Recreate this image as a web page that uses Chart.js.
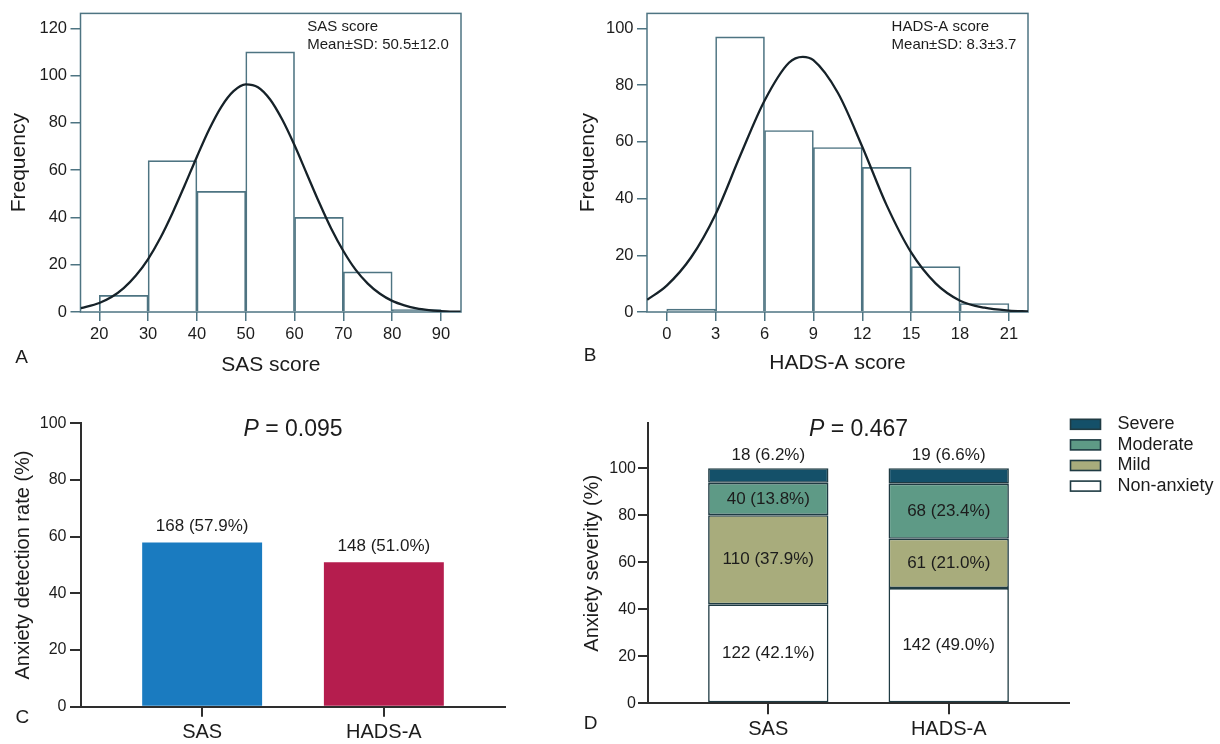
<!DOCTYPE html>
<html><head><meta charset="utf-8">
<script src="https://cdn.jsdelivr.net/npm/chart.js@4.4.1/dist/chart.umd.min.js"></script>
<style>
html,body{margin:0;padding:0;background:#fff;width:1220px;height:744px;overflow:hidden;}
canvas{position:absolute;}
</style></head><body>
<canvas id="cA" width="560" height="380" style="left:0;top:0"></canvas>
<canvas id="cB" width="660" height="380" style="left:560px;top:0"></canvas>
<canvas id="cC" width="560" height="364" style="left:0;top:380px"></canvas>
<canvas id="cD" width="660" height="364" style="left:560px;top:380px"></canvas>
<script>
// ---------- Panel A: SAS histogram ----------
const sasBinCenters = [25, 35, 45, 55, 65, 75, 85];
const sasBinCounts = [7, 64, 51, 110, 40, 17, 1];
const sasCurveX = [16.2, 20, 22.5, 25, 27.5, 30, 32.5, 35, 37.5, 40, 42.5, 45, 47.5, 50, 52.5, 55, 57.5, 60, 62.5, 65, 67.5, 70, 72.5, 75, 77.5, 80, 82.5, 85, 87.5, 90, 94];
const sasCurveY = [1.6, 3.8, 6.3, 10.1, 15.4, 22.4, 31.3, 41.9, 53.6, 65.7, 77.2, 86.8, 93.4, 96.3, 95.1, 89.9, 81.3, 70.5, 58.5, 46.5, 35.3, 25.8, 17.9, 12.0, 7.7, 4.7, 2.8, 1.5, 0.8, 0.4, 0.1];
const sasTicksX = [20, 30, 40, 50, 60, 70, 80, 90];
const sasTicksY = [0, 20, 40, 60, 80, 100, 120];
const sasNote = ['SAS score', 'Mean\u00B1SD: 50.5\u00B112.0'];

// ---------- Panel B: HADS-A histogram ----------
const hadsBinCenters = [1.5, 4.5, 7.5, 10.5, 13.5, 16.5, 19.5];
const hadsBinCounts = [1, 97, 64, 58, 51, 16, 3];
const hadsCurveX = [-1.2, 0, 1.5, 3, 4.5, 6, 7.5, 8.35, 9, 10.5, 12, 13.5, 15, 16.5, 18, 19.5, 21, 22.2];
const hadsCurveY = [4.3, 9.3, 19.3, 34.5, 55.0, 74.5, 87.9, 90.0, 88.8, 77.3, 58.3, 37.6, 21.0, 10.1, 4.0, 1.5, 0.5, 0.2];
const hadsTicksX = [0, 3, 6, 9, 12, 15, 18, 21];
const hadsTicksY = [0, 20, 40, 60, 80, 100];
const hadsNote = ['HADS-A score', 'Mean\u00B1SD: 8.3\u00B13.7'];

// ---------- Panel C: detection rate ----------
const scales2 = ['SAS', 'HADS-A'];
const detectCounts = [168, 148];
const detectPct = [57.9, 51.0];
const pctTicks = [0, 20, 40, 60, 80, 100];
const pC = '0.095';

// ---------- Panel D: severity ----------
const sevLabels = ['Non-anxiety', 'Mild', 'Moderate', 'Severe'];
const sevCounts = { 'Non-anxiety': [122, 142], 'Mild': [110, 61], 'Moderate': [40, 68], 'Severe': [18, 19] };
const sevPct = { 'Non-anxiety': [42.1, 49.0], 'Mild': [37.9, 21.0], 'Moderate': [13.8, 23.4], 'Severe': [6.2, 6.6] };
const pD = '0.467';

// ---------- styling ----------
const FONT = "'Liberation Sans', Arial, Helvetica, sans-serif";
const textCol = '#1c1c1c';
const frameCol = '#4e7482';
const axisCol = '#2e2e2e';
const barColsC = ['#1a7bc0', '#b51d4e'];
const sevColors = { 'Non-anxiety': '#ffffff', 'Mild': '#a8ac7c', 'Moderate': '#5e9a86', 'Severe': '#145069' };
const sevBorder = '#1f3b43';

Chart.defaults.font.family = FONT;
Chart.defaults.color = textCol;
Chart.defaults.animation = false;

function txt(ctx, s, x, y, font, align, base, color) {
  ctx.save();
  ctx.font = font; ctx.fillStyle = color || textCol;
  ctx.textAlign = align || 'center'; ctx.textBaseline = base || 'middle';
  ctx.fillText(s, x, y);
  ctx.restore();
}
function pText(ctx, val, cx, cy, size) {
  ctx.save();
  const fi = 'italic ' + size + 'px ' + FONT, fr = size + 'px ' + FONT;
  ctx.font = fi; const w1 = ctx.measureText('P').width;
  const rest = ' = ' + val;
  ctx.font = fr; const w2 = ctx.measureText(rest).width;
  const x0 = cx - (w1 + w2) / 2;
  ctx.fillStyle = textCol; ctx.textBaseline = 'middle'; ctx.textAlign = 'left';
  ctx.font = fi; ctx.fillText('P', x0, cy);
  ctx.font = fr; ctx.fillText(rest, x0 + w1, cy);
  ctx.restore();
}

function histConfig(binX, binY, curveX, curveY, ticksX, ticksY, xmin, xmax, ymax, xTitle, pad, yW, yTitlePad, xTitlePad, note, letter, letterPos) {
  return {
    type: 'bar',
    data: {
      datasets: [
        { type: 'line', data: curveX.map((x, i) => ({ x: x, y: curveY[i] })), borderColor: '#162229', borderWidth: 2.3,
          pointRadius: 0, cubicInterpolationMode: 'monotone', fill: false, order: 0 },
        { type: 'bar', data: binX.map((x, i) => ({ x: x, y: binY[i] })), backgroundColor: 'rgba(255,255,255,0)',
          borderColor: frameCol, borderWidth: 1, borderSkipped: 'start', categoryPercentage: 1, barPercentage: 1, order: 1 }
      ]
    },
    options: {
      responsive: false, animation: false,
      layout: { padding: pad },
      plugins: { legend: { display: false }, tooltip: { enabled: false } },
      scales: {
        x: {
          type: 'linear', min: xmin, max: xmax, offset: false,
          grid: { display: true, offset: false, drawOnChartArea: false, tickLength: 9, color: frameCol, lineWidth: 1.5 },
          border: { display: false },
          ticks: { padding: 3.6, font: { size: 16.5 }, color: textCol, autoSkip: false, maxRotation: 0 },
          afterBuildTicks: s => { s.ticks = ticksX.map(v => ({ value: v })); },
          afterFit: s => { s.height = 380 - 312; },
          title: { display: true, text: xTitle, color: textCol, font: { size: 21, lineHeight: 1.2 }, padding: { top: 0, bottom: xTitlePad } }
        },
        y: {
          type: 'linear', min: 0, max: ymax,
          grid: { display: true, drawOnChartArea: false, tickLength: 10, color: frameCol, lineWidth: 1.5 },
          border: { display: false },
          ticks: { padding: 3.5, font: { size: 16.5 }, color: textCol, autoSkip: false },
          afterBuildTicks: s => { s.ticks = ticksY.map(v => ({ value: v })); },
          afterFit: s => { s.width = yW; },
          title: { display: true, text: 'Frequency', color: textCol, font: { size: 21, lineHeight: 1.2 }, padding: { top: yTitlePad, bottom: 0 } }
        }
      }
    },
    plugins: [{
      id: 'histExtra',
      beforeDatasetsDraw(chart) {
        const { ctx, chartArea: a } = chart;
        ctx.save(); ctx.strokeStyle = frameCol; ctx.lineWidth = 1.5;
        ctx.strokeRect(a.left, a.top, a.right - a.left, a.bottom - a.top);
        ctx.restore();
      },
      afterDraw(chart) {
        const ctx = chart.ctx;
        const nx = chart.scales.x.getPixelForValue(note.x);
        txt(ctx, note.t[0], nx, 27, '15px ' + FONT, 'left');
        txt(ctx, note.t[1], nx, 45, '15px ' + FONT, 'left');
        txt(ctx, letter, letterPos[0], letterPos[1], '19px ' + FONT);
      }
    }]
  };
}

new Chart(document.getElementById('cA'), histConfig(sasBinCenters, sasBinCounts, sasCurveX, sasCurveY, sasTicksX, sasTicksY,
  16.15, 94.1, 126.3, 'SAS score', { left: 0, top: 12, right: 99, bottom: 0 }, 80.5, 7, 2.4,
  { x: 62.6, t: sasNote }, 'A', [21.7, 358]));

new Chart(document.getElementById('cB'), histConfig(hadsBinCenters, hadsBinCounts, hadsCurveX, hadsCurveY, hadsTicksX, hadsTicksY,
  -1.21, 22.17, 105.3, 'HADS-A score', { left: 0, top: 12, right: 192, bottom: 0 }, 87, 15.5, 4.4,
  { x: 13.8, t: hadsNote }, 'B', [30, 356]));

// ---------- Panel C ----------
new Chart(document.getElementById('cC'), {
  type: 'bar',
  data: { datasets: [{ data: scales2.map((c, i) => ({ x: i + 1, y: detectPct[i] })), backgroundColor: barColsC,
    borderWidth: 0, categoryPercentage: 1, barPercentage: 0.66 }] },
  options: {
    responsive: false, animation: false,
    layout: { padding: { left: 0, top: 43.3, right: 55, bottom: 0 } },
    plugins: { legend: { display: false }, tooltip: { enabled: false } },
    scales: {
      x: {
        type: 'linear', min: 1 / 3, max: 8 / 3, offset: false,
        grid: { display: true, offset: false, drawOnChartArea: false, tickLength: 10, color: axisCol, lineWidth: 2 },
        border: { display: true, color: axisCol, width: 2 },
        ticks: { padding: 4, font: { size: 20 }, color: textCol, autoSkip: false, maxRotation: 0, callback: v => scales2[v - 1] },
        afterBuildTicks: s => { s.ticks = scales2.map((c, i) => ({ value: i + 1 })); },
        afterFit: s => { s.height = 364 - 326.7; }
      },
      y: {
        type: 'linear', min: 0, max: 100,
        grid: { display: true, drawOnChartArea: false, tickLength: 11, color: axisCol, lineWidth: 2 },
        border: { display: true, color: axisCol, width: 2 },
        ticks: { padding: 3.5, font: { size: 16 }, color: textCol, autoSkip: false },
        afterBuildTicks: s => { s.ticks = pctTicks.map(v => ({ value: v })); },
        afterFit: s => { s.width = 81; },
        title: { display: true, text: 'Anxiety detection rate (%)', color: textCol, font: { size: 20, lineHeight: 1.2 }, padding: { top: 11, bottom: 0 } }
      }
    }
  },
  plugins: [{
    id: 'cExtra',
    afterDraw(chart) {
      const ctx = chart.ctx, a = chart.chartArea;
      const meta = chart.getDatasetMeta(0);
      meta.data.forEach((el, i) => {
        txt(ctx, detectCounts[i] + ' (' + detectPct[i].toFixed(1) + '%)', el.x, el.y - 16, '17px ' + FONT);
      });
      pText(ctx, pC, (a.left + a.right) / 2, 50, 23);
      txt(ctx, 'C', 22.3, 337.5, '19px ' + FONT);
    }
  }]
});

// ---------- Panel D ----------
new Chart(document.getElementById('cD'), {
  type: 'bar',
  data: { datasets: sevLabels.map(lab => ({
    label: lab, stack: 's',
    data: scales2.map((c, i) => ({ x: i + 1, y: sevPct[lab][i] })),
    backgroundColor: sevColors[lab], borderColor: sevBorder, borderWidth: 1.6, borderSkipped: false,
    categoryPercentage: 1, barPercentage: 0.667
  })) },
  options: {
    responsive: false, animation: false,
    layout: { padding: { left: 0, top: 43.3, right: 151, bottom: 0 } },
    plugins: { legend: { display: false }, tooltip: { enabled: false } },
    scales: {
      x: {
        type: 'linear', min: 1 / 3, max: 8 / 3, offset: false, stacked: true,
        grid: { display: true, offset: false, drawOnChartArea: false, tickLength: 11, color: axisCol, lineWidth: 2 },
        border: { display: true, color: axisCol, width: 2 },
        ticks: { padding: 3.4, font: { size: 20 }, color: textCol, autoSkip: false, maxRotation: 0, callback: v => scales2[v - 1] },
        afterBuildTicks: s => { s.ticks = scales2.map((c, i) => ({ value: i + 1 })); },
        afterFit: s => { s.height = 364 - 323.3; }
      },
      y: {
        type: 'linear', min: 0, max: 119.1, stacked: true,
        grid: { display: true, drawOnChartArea: false, tickLength: 10, color: axisCol, lineWidth: 2 },
        border: { display: true, color: axisCol, width: 2 },
        ticks: { padding: 2, font: { size: 16 }, color: textCol, autoSkip: false },
        afterBuildTicks: s => { s.ticks = pctTicks.map(v => ({ value: v })); },
        afterFit: s => { s.width = 88; },
        title: { display: true, text: 'Anxiety severity (%)', color: textCol, font: { size: 20, lineHeight: 1.2 }, padding: { top: 20.5, bottom: 0 } }
      }
    }
  },
  plugins: [{
    id: 'dExtra',
    afterDraw(chart) {
      const ctx = chart.ctx, a = chart.chartArea;
      sevLabels.forEach((lab, di) => {
        const meta = chart.getDatasetMeta(di);
        meta.data.forEach((el, i) => {
          const s = sevCounts[lab][i] + ' (' + sevPct[lab][i].toFixed(1) + '%)';
          const y = lab === 'Severe' ? el.y - 13 : (el.y + el.base) / 2;
          txt(ctx, s, el.x, y, '17px ' + FONT);
        });
      });
      pText(ctx, pD, (a.left + a.right) / 2, 50, 23);
      // legend (top item = last dataset)
      const order = sevLabels.slice().reverse();
      order.forEach((lab, k) => {
        const cy = 44.3 + k * 20.6;
        const bx = a.right + 1.5, bw = 30, bh = 10;
        ctx.save();
        ctx.fillStyle = sevColors[lab]; ctx.fillRect(bx, cy - bh / 2, bw, bh);
        ctx.strokeStyle = sevBorder; ctx.lineWidth = 1.6; ctx.strokeRect(bx, cy - bh / 2, bw, bh);
        ctx.restore();
        txt(ctx, lab, bx + 47, cy, '18px ' + FONT, 'left');
      });
      txt(ctx, 'D', 30.5, 343.3, '19px ' + FONT);
    }
  }]
});
</script>
</body></html>
